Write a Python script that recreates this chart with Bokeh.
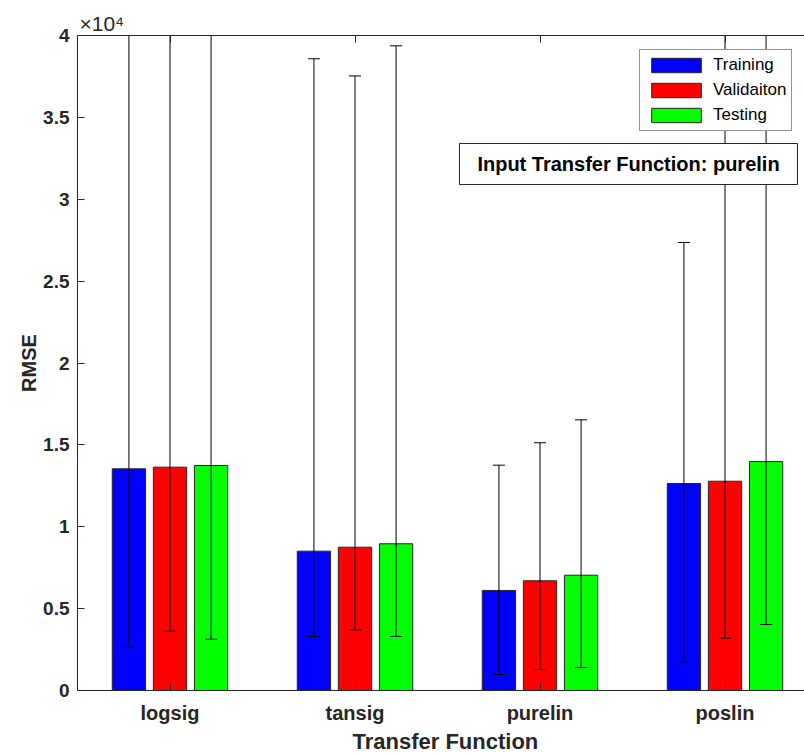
from bokeh.plotting import figure
from bokeh.models import (Range1d, FixedTicker, LinearAxis, Legend, LegendItem,
                          Label, BoxAnnotation, ColumnDataSource, Title)
from bokeh.embed import file_html
from bokeh.resources import INLINE
import numpy as np

# ---- data -------------------------------------------------------------
categories = ["logsig", "tansig", "purelin", "poslin"]
series = ["Training", "Validaiton", "Testing"]
colors = ["#0000ff", "#ff0000", "#00ff00"]

training = [13540, 8510, 6110, 12640]
validation = [13640, 8750, 6700, 12780]
testing = [13740, 8960, 7040, 13980]

# error bar limits (absolute RMSE values)
training_low = [2640, 3300, 980, 1750]
validation_low = [3620, 3700, 1280, 3200]
testing_low = [3130, 3300, 1400, 4030]

training_high = [45200, 38580, 13760, 27360]
validation_high = [44800, 37530, 15130, 41600]
testing_high = [46100, 39370, 16530, 43900]

y_ticks = [0, 5000, 10000, 15000, 20000, 25000, 30000, 35000, 40000]
y_tick_labels = ["0", "0.5", "1", "1.5", "2", "2.5", "3", "3.5", "4"]

# ---- styling ----------------------------------------------------------
FONT = "Liberation Sans"
AX = "#262626"
offsets = [-0.222, 0.0, 0.222]
bar_width = 0.18

W, H = 804, 754
left, right, top, bottom = 77, 0, 35, 64

x_lo, x_hi = 0.5, 0.5 + (W - left - right) / 185.0
y_lo, y_hi = 0, 40000

p = figure(width=W, height=H, x_range=Range1d(x_lo, x_hi), y_range=Range1d(y_lo, y_hi),
           output_backend="svg", toolbar_location=None,
           min_border_left=left, min_border_right=right,
           min_border_top=top, min_border_bottom=bottom)
p.outline_line_color = None
p.xgrid.visible = False
p.ygrid.visible = False
p.background_fill_color = "white"

centers = np.arange(1, len(categories) + 1, dtype=float)
values = [training, validation, testing]
lows = [training_low, validation_low, testing_low]
highs = [training_high, validation_high, testing_high]

bar_renderers = []
for name, col, off, v in zip(series, colors, offsets, values):
    src = ColumnDataSource(dict(x=centers + off, top=v))
    r = p.vbar(x="x", top="top", width=bar_width, bottom=0, source=src,
               fill_color=col, line_color=AX, line_width=1)
    bar_renderers.append(r)

for off, lo, hi in zip(offsets, lows, highs):
    xs = centers + off
    src = ColumnDataSource(dict(x=xs, lo=lo, hi=hi))
    p.segment(x0="x", y0="lo", x1="x", y1="hi", source=src, line_color="black", line_width=1)
    p.scatter(x="x", y="lo", source=src, marker="dash", size=12, line_color="black", line_width=1)
    p.scatter(x="x", y="hi", source=src, marker="dash", size=12, line_color="black", line_width=1)

# ---- axes -------------------------------------------------------------
xa = p.xaxis[0]
xa.ticker = FixedTicker(ticks=list(centers))
xa.major_label_overrides = {float(c): n for c, n in zip(centers, categories)}

ya = p.yaxis[0]
ya.ticker = FixedTicker(ticks=y_ticks)
ya.major_label_overrides = {t: s for t, s in zip(y_ticks, y_tick_labels)}
ya.axis_label = "RMSE"

top_axis = LinearAxis(ticker=FixedTicker(ticks=list(centers)),
                      major_label_overrides={float(c): "" for c in centers})
p.add_layout(top_axis, "above")

for ax in (xa, ya, top_axis):
    ax.axis_line_color = AX
    ax.axis_line_width = 1
    ax.major_tick_line_color = AX
    ax.major_tick_in = 7
    ax.major_tick_out = 0
    ax.minor_tick_in = 0
    ax.minor_tick_out = 0
    ax.major_label_text_font = FONT
    ax.major_label_text_font_style = "bold"
    ax.major_label_text_color = AX
    ax.major_label_text_font_size = "19px"
    ax.axis_label_text_font = FONT
    ax.axis_label_text_font_style = "bold"
    ax.axis_label_text_color = AX

top_axis.major_label_text_font_size = "1px"
xa.major_label_text_font_size = "20px"
xa.major_label_standoff = 11
ya.major_label_standoff = 8
ya.axis_label_text_font_size = "20px"
ya.axis_label_standoff = 0

# x-axis title, centred on the full axes width (which runs past the right edge)
p.add_layout(Title(text="Transfer Function", align="left", offset=275, standoff=0,
                   text_font=FONT, text_font_size="22px", text_font_style="bold",
                   text_color=AX), "below")

# exponent marker above the y axis
p.add_layout(Title(text="×10⁴", align="left", offset=2, standoff=1,
                   text_font=FONT, text_font_size="21px", text_font_style="normal",
                   text_color=AX), "above")

# ---- legend -----------------------------------------------------------
legend = Legend(items=[LegendItem(label=s, renderers=[r]) for s, r in zip(series, bar_renderers)],
                location=(562, 559), margin=0, padding=5, spacing=5,
                glyph_width=62, glyph_height=18, label_standoff=6,
                label_text_font=FONT, label_text_font_size="17px", label_text_color="black",
                border_line_color=AX, border_line_width=1,
                background_fill_color="white", background_fill_alpha=1.0)
p.add_layout(legend, "center")

# ---- info box ---------------------------------------------------------
def px_to_x(px):
    return x_lo + (px - left) / 185.0

def py_to_y(py):
    return (690 - py) * (y_hi - y_lo) / (690 - 35)

box = BoxAnnotation(left=px_to_x(459), right=px_to_x(797), top=py_to_y(143), bottom=py_to_y(184),
                    fill_color="white", fill_alpha=1.0, line_color=AX, line_width=1, line_alpha=1.0)
p.add_layout(box)
p.add_layout(Label(x=(px_to_x(459) + px_to_x(797)) / 2, y=(py_to_y(143) + py_to_y(184)) / 2,
                   text="Input Transfer Function: purelin", text_font=FONT,
                   text_font_style="bold", text_font_size="20px", text_color="black",
                   text_align="center", text_baseline="middle"))

open("out.html", "w").write(file_html(p, INLINE))
